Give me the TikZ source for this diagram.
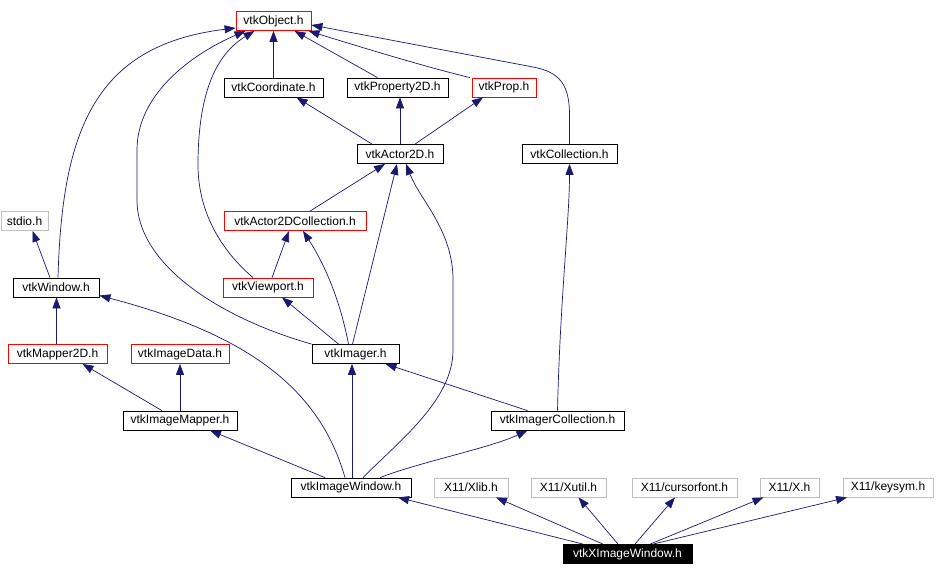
\documentclass[tikz,border=0pt]{standalone}
\usepackage{fontspec}
\setmainfont{Liberation Sans}
\usetikzlibrary{arrows.meta}
\definecolor{edgec}{HTML}{191970}
\definecolor{grayb}{HTML}{BFBFBF}
\begin{document}
\begin{tikzpicture}[x=1pt,y=-1pt,
  hdr/.style={draw=black, line width=0.8pt, minimum height=19pt, inner sep=0pt, font=\fontsize{12}{14}\selectfont, fill=white},
  redh/.style={hdr, draw=red},
  grayh/.style={hdr, draw=grayb},
  cur/.style={hdr, fill=black, text=white},
  inc/.style={draw=edgec, line width=0.7pt, -{Triangle[length=11pt,width=8pt]}}
]
\useasboundingbox[fill=white] (0,0) rectangle (936,576);
% row 1
\node[redh, minimum width=75pt] (obj) at (273.5,21) {vtkObject.h};
% row 2
\node[hdr, minimum width=99pt] (coord) at (273.5,87.5) {vtkCoordinate.h};
\node[hdr, minimum width=101pt] (prop2d) at (397.5,87.5) {vtkProperty2D.h};
\node[redh, minimum width=64pt] (prop) at (504,87.5) {vtkProp.h};
% row 3
\node[hdr, minimum width=86pt] (actor) at (400,154) {vtkActor2D.h};
\node[hdr, minimum width=95pt] (coll) at (569.5,154) {vtkCollection.h};
% row 4
\node[grayh, minimum width=47pt] (stdio) at (24.5,221) {stdio.h};
\node[redh, minimum width=142pt] (a2dc) at (295,221) {vtkActor2DCollection.h};
% row 5
\node[hdr, minimum width=86pt] (win) at (56,287.5) {vtkWindow.h};
\node[redh, minimum width=90pt] (vp) at (268,287.5) {vtkViewport.h};
% row 6
\node[redh, minimum width=99pt] (map2d) at (57.5,354) {vtkMapper2D.h};
\node[redh, minimum width=98pt] (imgdata) at (180,354) {vtkImageData.h};
\node[hdr, minimum width=87pt] (imager) at (355.5,354) {vtkImager.h};
% row 7
\node[hdr, minimum width=114pt] (imgmap) at (180,420.5) {vtkImageMapper.h};
\node[hdr, minimum width=133pt] (imgcoll) at (557.5,420.5) {vtkImagerCollection.h};
% row 8
\node[hdr, minimum width=120pt] (imgwin) at (351,487.5) {vtkImageWindow.h};
\node[grayh, minimum width=74pt] (xlib) at (471,487.5) {X11/Xlib.h};
\node[grayh, minimum width=75pt] (xutil) at (568.5,487.5) {X11/Xutil.h};
\node[grayh, minimum width=105pt] (cursor) at (684.5,487.5) {X11/cursorfont.h};
\node[grayh, minimum width=59pt] (xh) at (789.5,487.5) {X11/X.h};
\node[grayh, minimum width=90pt] (keysym) at (888,487.5) {X11/keysym.h};
% row 9
\node[cur, minimum width=129pt] (ximg) at (627.5,554) {vtkXImageWindow.h};

% edges to vtkObject.h
\draw[inc] ([xshift=2pt]win.north) .. controls (62,130) and (95,45) .. ([yshift=-7pt]obj.west);
\draw[inc] (imager.north west) .. controls (220,318) and (137,265) .. (137,200) -- (137,150) .. controls (137,95) and (190,55) .. ([xshift=-28pt]obj.south);
\draw[inc] ([xshift=-15pt]vp.north) .. controls (215,245) and (198,205) .. (198,165) .. controls (198,95) and (215,55) .. ([xshift=-19pt]obj.south);
\draw[inc] (coord.north) -- (obj.south);
\draw[inc] ([xshift=-20pt]prop2d.north) -- ([xshift=21pt]obj.south);
\draw[inc] ([xshift=-34pt]prop.north) .. controls (430,68) and (370,50) .. ([xshift=35pt]obj.south);
\draw[inc] (coll.north) -- (569.5,115) .. controls (569.5,85) and (560,72) .. (533,67) -- ([yshift=-4pt]obj.east);
% edges to vtkActor2D.h and row 2
\draw[inc] ([xshift=-28pt]actor.north) -- ([xshift=23pt]coord.south);
\draw[inc] (actor.north) -- ([xshift=2.5pt]prop2d.south);
\draw[inc] ([xshift=15pt]actor.north) -- ([xshift=-21pt]prop.south);
\draw[inc] ([xshift=15pt]a2dc.north) -- ([xshift=-15pt]actor.south);
\draw[inc] ([xshift=-3pt]imager.north) -- ([xshift=-3pt]actor.south);
\draw[inc] ([xshift=12pt]imgwin.north) .. controls (400,440) and (453,400) .. (453,350) -- (453,280) .. controls (453,230) and (420,200) .. ([xshift=6pt]actor.south);
% middle
\draw[inc] ([xshift=4pt]vp.north) -- ([xshift=-6pt]a2dc.south);
\draw[inc] ([xshift=-7pt]imager.north) .. controls (340,300) and (325,265) .. ([xshift=8pt]a2dc.south);
\draw[inc] ([xshift=-17pt]imager.north) -- ([xshift=14pt]vp.south);
% left
\draw[inc] ([xshift=-6pt]win.north) -- ([xshift=8pt]stdio.south);
\draw[inc] ([xshift=-1pt]map2d.north) -- ([xshift=0.5pt]win.south);
\draw[inc] ([xshift=-18pt]imgmap.north) -- ([xshift=25pt]map2d.south);
\draw[inc] (imgmap.north) -- (imgdata.south);
% from vtkImageWindow.h
\draw[inc] ([xshift=-6pt]imgwin.north) .. controls (320,390) and (250,335) .. ([yshift=-8pt]win.east);
\draw[inc] ([xshift=-26pt]imgwin.north) -- ([xshift=30pt]imgmap.south);
\draw[inc] ([xshift=1pt]imgwin.north) -- ([xshift=-3.5pt]imager.south);
\draw[inc] ([xshift=29pt]imgwin.north) .. controls (420,462) and (490,448) .. ([xshift=-30pt]imgcoll.south);
% from vtkImagerCollection.h
\draw[inc] ([xshift=-30pt]imgcoll.north) -- ([xshift=30pt]imager.south);
\draw[inc] (imgcoll.north) .. controls (560,300) and (569.5,220) .. (coll.south);
% from vtkXImageWindow.h
\draw[inc] ([xshift=-44.5pt]ximg.north) -- ([xshift=47pt]imgwin.south);
\draw[inc] ([xshift=-24.5pt]ximg.north) -- ([xshift=25pt]xlib.south);
\draw[inc] ([xshift=-9.5pt]ximg.north) -- ([xshift=10pt]xutil.south);
\draw[inc] ([xshift=7.5pt]ximg.north) -- ([xshift=-9.5pt]cursor.south);
\draw[inc] ([xshift=22.5pt]ximg.north) -- ([xshift=-26pt]xh.south);
\draw[inc] ([xshift=25.5pt]ximg.north) -- ([xshift=-41pt]keysym.south);
\end{tikzpicture}
\end{document}
